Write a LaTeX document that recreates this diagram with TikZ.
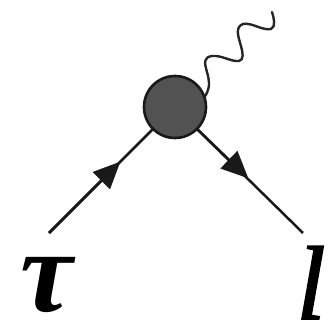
\documentclass[tikz,border=0pt]{standalone}
\usepackage{fontspec}
\setmainfont{Liberation Serif}
\newfontfamily\lfont[ItalicFeatures={FakeBold=1.5}]{Liberation Serif}
\usetikzlibrary{arrows.meta}
\tikzset{
  vertexnode/.style={circle,draw=black!90,fill=black!68,line width=2.6pt,minimum size=62pt,inner sep=0pt},
  fermion/.style={line width=2.5pt,draw=black!90},
  fermionarrow/.style={fermion,-{Triangle[length=27pt,width=24pt]},shorten >=-0.5pt},
  photon/.style={line width=2.4pt,draw=black!85,line cap=round,line join=round},
  tausymbol/.style={font=\fontsize{118pt}{118pt}\selectfont\bfseries\itshape,inner sep=0pt,anchor=base,text depth=0pt},
  lsymbol/.style={font=\fontsize{105pt}{105pt}\selectfont\lfont\itshape,inner sep=0pt,anchor=base,text depth=0pt},
}
\begin{document}
\begin{tikzpicture}[x=1pt,y=-1pt]
\useasboundingbox (0,0) rectangle (330,326);
\node[vertexnode] (v) at (175,107) {};
\coordinate (a) at (49,233);
\coordinate (am) at (120,162);
\coordinate (b) at (303,233);
\coordinate (bm) at (248,178);
\coordinate (w) at (v.20);
\draw[fermion] (a) -- (v.225);
\draw[fermion] (v.-45) -- (b);
\draw[fermionarrow] (a) -- (am);
\draw[fermionarrow] (v.-45) -- (bm);
\draw[photon] (w) .. controls (211,86) and (209,80) .. (207,72)
  .. controls (204,62) and (204,57) .. (212,56)
  .. controls (222,55) and (231,62) .. (239,61)
  .. controls (244,60) and (243,53) .. (241,46)
  .. controls (238,36) and (235,27) .. (243,24)
  .. controls (251,22) and (263,31) .. (271,29)
  .. controls (276,27) and (274,18) .. (272,12);
\node[tausymbol] (tau) at (47,312) {τ};
\node[lsymbol] (l) at (311,319) {l};
\end{tikzpicture}
\end{document}
